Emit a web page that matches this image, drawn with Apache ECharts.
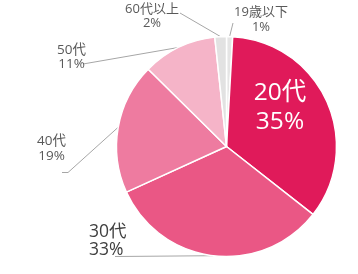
<!DOCTYPE html>
<html><head><meta charset="utf-8">
<script src="https://cdn.jsdelivr.net/npm/echarts@6/dist/echarts.min.js"></script>
<style>html,body{margin:0;padding:0;background:#fff}#c{width:358px;height:274px}</style>
</head><body><div id="c"></div>
<script>
const categories = ['19歳以下', '20代', '30代', '40代', '50代', '60代以上'];
const shares = [0.9, 34.7, 32.6, 19.2, 10.9, 1.7];
const labelPercents = [1, 35, 33, 19, 11, 2];
const colors = ['#e5e5e5', '#e01a5a', '#ea5785', '#ee7ba0', '#f5b4c8', '#e2e2e2'];

// label placement (layout only)
const labelPos = [
  {x: 261, y: 20, align: 'center', line: [[233, 23]]},
  {x: 280, y: 108, align: 'center', line: null},
  {x: 89, y: 241, align: 'left', line: [[115, 256.5]]},
  {x: 51.5, y: 149, align: 'center', line: [[68, 172.5], [62, 172.5]]},
  {x: 71.5, y: 57.5, align: 'center', line: [[83, 64]]},
  {x: 152, y: 16.5, align: 'center', line: [[180, 13]]}
];
const labelStyles = [
  {fontSize: 13, lineHeight: 15, color: '#595959'},
  {fontSize: 24.5, lineHeight: 29, color: '#ffffff'},
  {fontSize: 17.5, lineHeight: 18.5, color: '#404040'},
  {fontSize: 13.5, lineHeight: 15, color: '#595959'},
  {fontSize: 13.5, lineHeight: 14, color: '#595959'},
  {fontSize: 13, lineHeight: 14, color: '#595959'}
];

const chart = echarts.init(document.getElementById('c'), null, {renderer: 'canvas'});
chart.setOption({
  animation: false,
  series: [{
    type: 'pie',
    center: [226.5, 146.5],
    radius: 110,
    startAngle: 90,
    clockwise: true,
    avoidLabelOverlap: false,
    itemStyle: {borderColor: '#fff', borderWidth: 1.5},
    labelLine: {show: true, lineStyle: {color: '#a6a6a6', width: 1}, length: 5, length2: 5},
    data: categories.map((c, i) => ({
      name: c,
      value: shares[i],
      itemStyle: {color: colors[i]},
      label: Object.assign({
        show: true,
        fontFamily: "'Open Sans', 'Noto Sans CJK JP'",
        formatter: c + '\n' + labelPercents[i] + '%'
      }, labelStyles[i]),
      labelLine: {show: i !== 1}
    })),
    labelLayout: function (p) {
      const L = labelPos[p.dataIndex];
      const r = {x: L.x, y: L.y, align: L.align, verticalAlign: 'middle'};
      if (L.line && p.labelLinePoints) {
        r.labelLinePoints = [p.labelLinePoints[0]].concat(L.line);
      }
      return r;
    }
  }]
});
</script></body></html>
